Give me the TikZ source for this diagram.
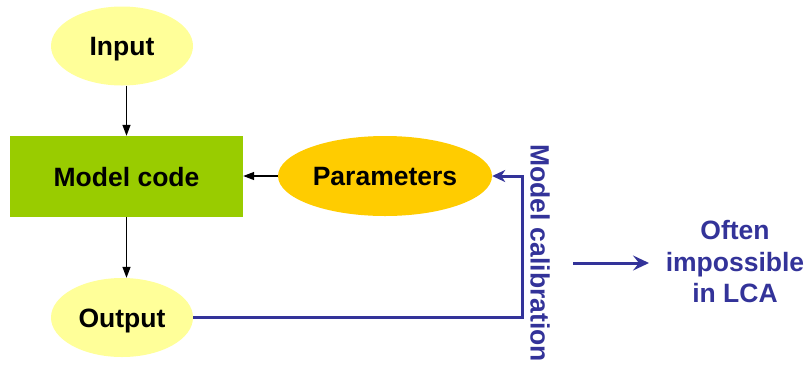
\documentclass[tikz,border=0pt]{standalone}
\usepackage{fontspec}
\setmainfont{Liberation Sans}
\usetikzlibrary{shapes.geometric,arrows.meta}
\definecolor{lightyel}{HTML}{FFFF99}
\definecolor{modgreen}{HTML}{99CC00}
\definecolor{paramorange}{HTML}{FFCC00}
\definecolor{calblue}{HTML}{333399}
\tikzset{
  lbl/.style={font=\fontsize{26.5}{31.5}\selectfont\bfseries},
  boxlbl/.style={lbl, text height=19pt, text depth=0pt},
  ell/.style={ellipse, draw=none, inner sep=0pt, boxlbl},
  blk/.style={draw=black, line width=1.3pt, -{Triangle[length=11pt,width=8pt]}},
  blu/.style={draw=calblue, line width=3pt}
}
\begin{document}
\begin{tikzpicture}[x=1pt,y=-1pt]
\useasboundingbox (0,0) rectangle (808,365);
\fill[white] (0,0) rectangle (808,365);
\node[ell, fill=lightyel, minimum width=142pt, minimum height=79pt] (in) at (122,46) {Input};
\node[rectangle, fill=modgreen, inner sep=0pt, minimum width=233pt, minimum height=81pt, boxlbl] (mod) at (126.5,176.5) {Model code};
\node[ell, fill=paramorange, minimum width=214pt, minimum height=80pt] (par) at (385,176) {Parameters};
\node[ell, fill=lightyel, minimum width=142pt, minimum height=79pt] (out) at (122,317.5) {Output};
\coordinate (in-s) at (126.5,85.5);
\draw[blk] (in-s) -- (mod.north);
\draw[blk] (mod.south) -- (mod.south |- out.north);
\draw[blk] (par.west) -- (par.west -| mod.east);
\coordinate (corner) at (522,250);
\draw[blu, -{Stealth[length=13pt,width=12pt,inset=4pt]}] (out.east) -| (corner) |- (par.east);
\node[lbl, text=calblue, rotate=-90] (cal) at (540,253) {Model calibration};
\coordinate (a1) at (573,263);
\coordinate (a2) at (649,263);
\draw[blu, -{Stealth[length=16pt,width=15pt,inset=6pt]}] (a1) -- (a2);
\node[lbl, text=calblue, align=center] (often) at (735,262) {Often\\impossible\\in LCA};
\end{tikzpicture}
\end{document}
